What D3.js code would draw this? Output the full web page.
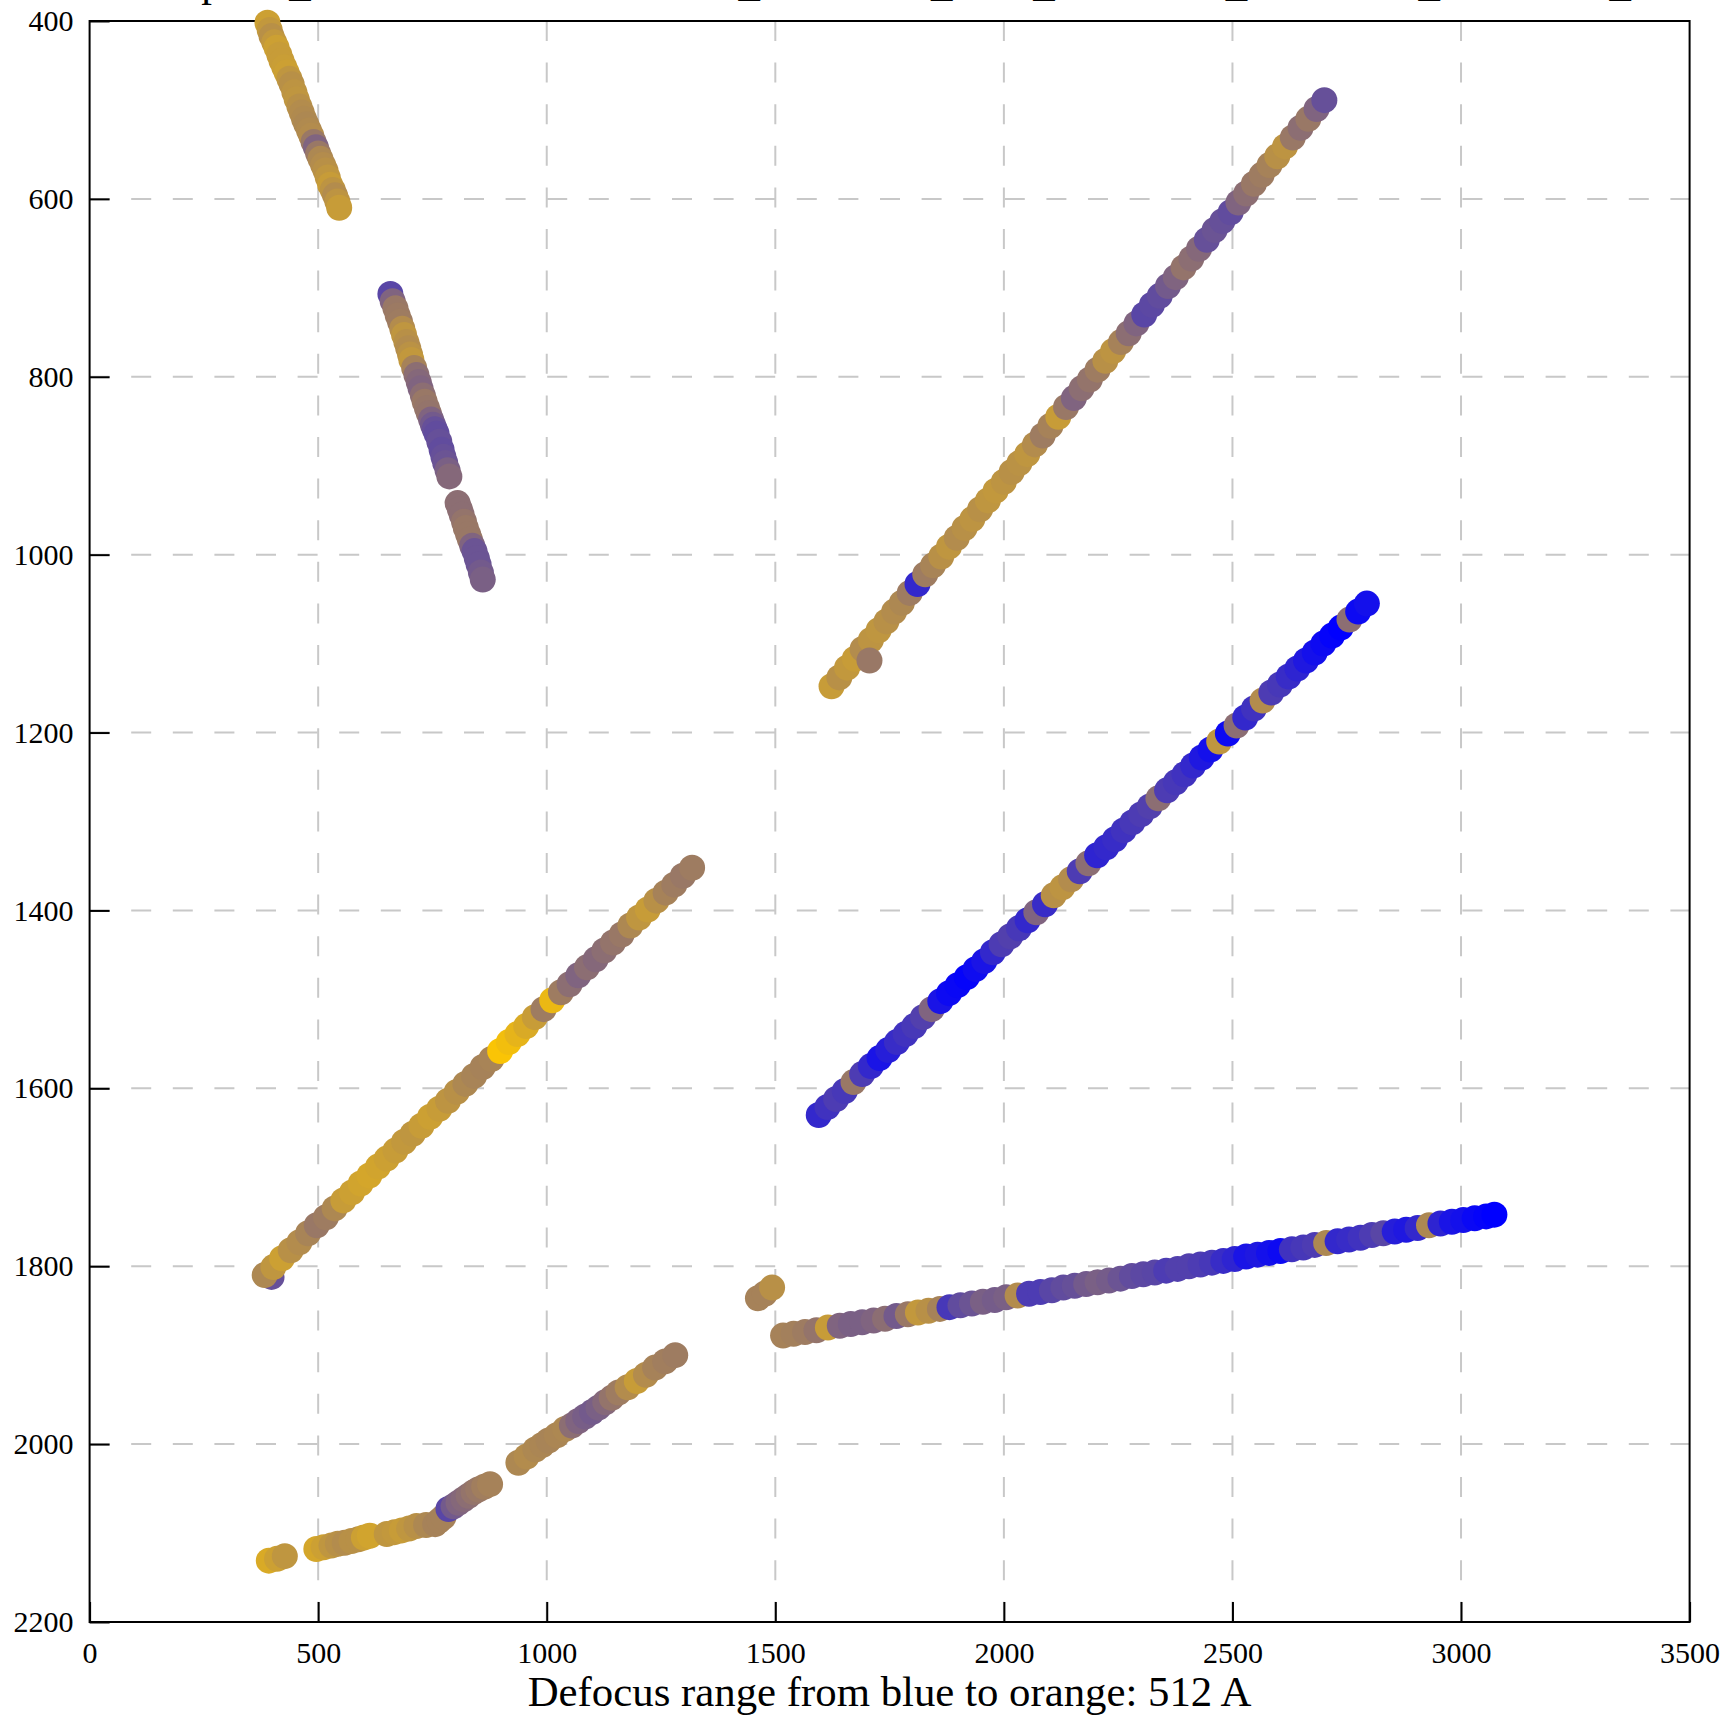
<!DOCTYPE html>
<html><head><meta charset="utf-8">
<script src="https://cdn.jsdelivr.net/npm/d3@7"></script>
<style>body{margin:0;background:#fff}svg{display:block}</style>
</head><body>
<svg id="chart" width="1734" height="1721"></svg>
<script>
// ---- data ----
const xTicks = [0, 500, 1000, 1500, 2000, 2500, 3000, 3500];
const yTicks = [400, 600, 800, 1000, 1200, 1400, 1600, 1800, 2000, 2200];
const titleText = "Capture_Area FoilHole 30602343_30602344_Data_30589871_30589873_20220611_153045";
const xLabel = "Defocus range from blue to orange: 512 A";
const colorEnds = ["#0000ff", "#ffc800"];
// each point: [x, y, defocus fraction 0 (blue) .. 1 (orange)]
const segA = [[389,402,.8],[394,410,.76],[398,417,.72],[404,424,.76],[409,430,.8],[415,438,.78],[420,445,.78],[426,452,.79],[431,458,.8],[437,465,.75],[442,471,.72],[448,480,.74],[453,488,.75],[459,496,.72],[464,503,.7],[469,510,.69],[474,516,.68],[480,523,.69],[485,529,.7],[490,536,.6],[495,542,.5],[500,549,.6],[505,555,.68],[511,562,.7],[516,568,.72],[521,576,.75],[526,584,.78],[532,590,.74],[537,596,.7],[542,603,.74],[546,610,.78]];
const segB = [[658,707,.35],[663,715,.5],[669,723,.6],[674,731,.61],[679,738,.62],[684,746,.7],[688,753,.75],[693,761,.72],[697,768,.7],[701,775,.73],[704,781,.76],[710,790,.65],[715,798,.55],[720,806,.52],[724,813,.5],[729,821,.55],[733,828,.6],[738,835,.59],[742,841,.58],[747,848,.5],[751,854,.45],[755,859,.4],[759,864,.38],[765,873,.4],[770,882,.38],[774,890,.4],[778,897,.42],[783,905,.48],[787,912,.52],
  [805,942,.55],[810,949,.55],[814,955,.55],[819,963,.58],[823,970,.6],[828,977,.6],[832,983,.6],[837,990,.5],[842,996,.42],[847,1004,.42],[851,1011,.42],[856,1020,.45],[860,1028,.48]];
const segC = [[1623,1148,.78],[1640,1138,.72],[1657,1127,.76],[1674,1117,.78],[1691,1106,.7],[1709,1096,.74],[1726,1085,.75],[1743,1075,.72],[1760,1064,.7],[1777,1054,.68],[1794,1043,.62],[1811,1033,.2],[1828,1022,.62],[1845,1012,.66],[1863,1002,.72],[1880,991,.75],[1897,981,.7],[1914,970,.72],[1931,960,.74],[1948,949,.72],[1965,939,.75],[1982,928,.76],[2000,918,.74],[2017,907,.72],[2034,897,.73],[2051,887,.75],[2068,876,.7],[2085,866,.62],[2102,855,.65],[2119,845,.78],[2136,834,.6],[2153,824,.5],[2170,813,.55],[2188,803,.58],[2205,792,.62],[2222,782,.72],[2239,771,.74],[2256,761,.65],[2273,751,.55],[2290,740,.5],[2307,730,.35],[2324,719,.36],[2341,709,.38],[2359,698,.45],[2376,688,.5],[2393,677,.58],[2410,667,.55],[2427,656,.52],[2444,646,.4],[2461,635,.42],[2478,625,.4],[2496,615,.38],[2513,604,.5],[2530,594,.55],[2547,583,.6],[2564,573,.62],[2581,562,.65],[2598,552,.72],[2615,541,.74],[2632,531,.6],[2649,520,.55],[2666,510,.6],[2684,499,.5],[2701,489,.4],[1706,1119,.6]];
const segD = [[1595,1630,.2],[1614,1621,.25],[1633,1612,.3],[1652,1603,.28],[1671,1593,.6],[1690,1584,.3],[1709,1575,.2],[1728,1566,.1],[1747,1557,.15],[1766,1548,.22],[1785,1539,.25],[1804,1530,.28],[1823,1520,.32],[1842,1511,.5],[1861,1502,.1],[1880,1493,.05],[1899,1484,.04],[1919,1475,.02],[1938,1466,.06],[1957,1457,.1],[1976,1447,.2],[1995,1438,.3],[2014,1429,.32],[2033,1420,.28],[2052,1411,.2],[2071,1402,.5],[2090,1393,.22],[2109,1383,.72],[2128,1374,.74],[2147,1365,.7],[2166,1356,.3],[2185,1347,.55],[2204,1338,.18],[2224,1329,.2],[2243,1320,.22],[2262,1310,.25],[2281,1301,.28],[2300,1292,.3],[2319,1283,.32],[2338,1274,.55],[2357,1265,.3],[2376,1256,.28],[2395,1247,.25],[2414,1237,.2],[2433,1228,.12],[2452,1219,.08],[2471,1210,.75],[2490,1201,.05],[2509,1192,.55],[2528,1183,.2],[2547,1173,.25],[2566,1164,.7],[2585,1155,.3],[2604,1146,.28],[2623,1137,.22],[2642,1128,.18],[2661,1119,.12],[2680,1110,.08],[2699,1100,.05],[2718,1091,.02],[2737,1082,0],[2756,1073,.55],[2775,1064,.05],[2794,1055,.08]];
const segE = [[398,1812,.4],[383,1810,.68],[402,1801,.75],[421,1791,.8],[440,1782,.72],[459,1773,.7],[478,1763,.66],[497,1754,.6],[517,1745,.62],[536,1735,.68],[555,1726,.78],[574,1717,.8],[593,1707,.82],[612,1698,.83],[631,1688,.82],[650,1679,.8],[669,1670,.78],[688,1660,.76],[707,1651,.75],[726,1642,.78],[745,1632,.8],[765,1623,.78],[784,1614,.74],[803,1604,.72],[822,1595,.68],[841,1586,.66],[860,1576,.65],[879,1567,.66],[898,1558,.98],[917,1548,.95],[936,1539,.9],[955,1530,.85],[974,1520,.78],[993,1511,.62],[1012,1501,.92],[1031,1492,.62],[1050,1483,.55],[1069,1473,.5],[1088,1464,.55],[1107,1455,.52],[1126,1445,.55],[1145,1436,.58],[1164,1427,.6],[1183,1417,.68],[1202,1408,.75],[1221,1399,.78],[1240,1389,.72],[1260,1380,.65],[1279,1371,.62],[1298,1361,.6],[1318,1352,.62]];
const segF = [[392,2131,.85],[410,2129,.8],[427,2126,.75],
  [496,2118,.83],[512,2116,.8],[529,2114,.75],[543,2112,.72],[558,2111,.7],[573,2109,.72],[588,2107,.72],[600,2105,.8],[613,2103,.82],
  [650,2101,.75],[667,2099,.76],[683,2097,.78],[699,2095,.75],[715,2092,.72],[736,2091,.68],[756,2090,.65],[765,2086,.65],[774,2082,.65],[785,2073,.35],[796,2070,.45],[807,2066,.5],[818,2062,.52],[829,2058,.55],[840,2054,.58],[850,2051,.6],[863,2048,.63],[876,2045,.65],
  [938,2021,.68],[956,2014,.7],[975,2006,.68],[990,2001,.67],[1004,1996,.66],[1022,1990,.67],[1040,1983,.68],[1055,1979,.55],[1069,1974,.5],[1084,1969,.47],[1099,1964,.45],[1113,1959,.48],[1128,1953,.52],[1142,1948,.58],[1157,1942,.62],[1177,1936,.7],[1197,1929,.78],[1217,1922,.7],[1237,1914,.65],[1259,1907,.63],[1281,1900,.62]];
const segG = [[1462,1836,.65],[1477,1831,.65],[1493,1824,.72]];
const segH = [[1517,1878,.65],[1540,1876,.64],[1565,1874,.62],[1590,1872,.58],[1615,1869,.78],[1641,1867,.5],[1665,1865,.48],[1690,1863,.48],[1715,1861,.5],[1740,1859,.55],[1765,1856,.45],[1790,1854,.6],[1812,1852,.76],[1835,1850,.72],[1860,1848,.65],[1881,1846,.28],[1905,1844,.38],[1930,1842,.42],[1954,1840,.48],[1980,1838,.46],[2005,1835,.48],[2030,1833,.7],[2055,1831,.3],[2080,1829,.3],[2105,1827,.35],[2130,1824,.38],[2155,1822,.4],[2180,1820,.45],[2205,1818,.48],[2230,1816,.46],[2255,1814,.42],[2280,1811,.38],[2305,1809,.36],[2330,1807,.35],[2355,1805,.3],[2380,1803,.32],[2405,1800,.32],[2430,1798,.3],[2455,1796,.28],[2480,1794,.22],[2505,1792,.18],[2530,1789,.1],[2555,1787,.12],[2580,1785,.08],[2605,1783,.05],[2630,1781,.25],[2655,1779,.28],[2680,1776,.3],[2705,1774,.68],[2730,1772,.2],[2755,1770,.22],[2780,1768,.25],[2805,1765,.3],[2830,1763,.35],[2855,1761,.15],[2880,1759,.12],[2905,1757,.2],[2930,1754,.68],[2955,1752,.18],[2980,1750,.1],[3005,1748,.08],[3030,1746,.04],[3055,1744,.02],[3073,1742,0]];
const segments = [segA, segB, segC, segD, segE, segF, segG, segH];

// ---- layout ----
const L = 89.6, R = 1689.6, T = 21, B = 1622;
const svg = d3.select("#chart");
const x = d3.scaleLinear().domain([0, 3500]).range([L, R]);
const y = d3.scaleLinear().domain([400, 2200]).range([T, B]);
const color = d3.scaleLinear().domain([0, 1]).range(colorEnds).interpolate(d3.interpolateRgb);
const font = "'Liberation Serif','Times New Roman',serif";

// title (mostly above the visible area, as in the original)
svg.append("text").attr("x", 153.7).attr("y", -4)
  .attr("font-family", font).attr("font-size", 42.8).attr("fill", "#000")
  .text(titleText);

// grid
const grid = svg.append("g").attr("stroke", "#c8c8c8").attr("stroke-width", 2).attr("stroke-dasharray", "20,21.6");
grid.selectAll(".vg").data(xTicks.slice(1, -1)).join("line")
  .attr("x1", d => x(d)).attr("x2", d => x(d)).attr("y1", T).attr("y2", B);
grid.selectAll(".hg").data(yTicks.slice(1, -1)).join("line")
  .attr("y1", d => y(d)).attr("y2", d => y(d)).attr("x1", L).attr("x2", R);

// axes
const yAxis = d3.axisLeft(y).tickValues(yTicks).tickSizeInner(-20).tickSizeOuter(0).tickPadding(16).tickFormat(d3.format("d"));
const xAxis = d3.axisBottom(x).tickValues(xTicks).tickSizeInner(-20).tickSizeOuter(0).tickPadding(19.5).tickFormat(d3.format("d"));
const gy = svg.append("g").attr("transform", `translate(${L},0)`).call(yAxis);
const gx = svg.append("g").attr("transform", `translate(0,${B})`).call(xAxis);
[gx, gy].forEach(g => {
  g.select(".domain").remove();
  g.selectAll(".tick line").attr("stroke", "#000").attr("stroke-width", 2);
  g.selectAll(".tick text").attr("font-family", font).attr("font-size", 30).attr("fill", "#000");
});

// frame
svg.append("rect").attr("x", L).attr("y", T).attr("width", R - L).attr("height", B - T)
  .attr("fill", "none").attr("stroke", "#000").attr("stroke-width", 2);

// points
const pts = svg.append("g");
segments.forEach(seg => {
  pts.append("g").selectAll("circle").data(seg).join("circle")
    .attr("cx", d => x(d[0])).attr("cy", d => y(d[1])).attr("r", 13)
    .attr("fill", d => color(d[2]));
});

// x label
svg.append("text").attr("x", (L + R) / 2).attr("y", 1706).attr("text-anchor", "middle")
  .attr("font-family", font).attr("font-size", 42.8).attr("fill", "#000").text(xLabel);
</script>
</body></html>
